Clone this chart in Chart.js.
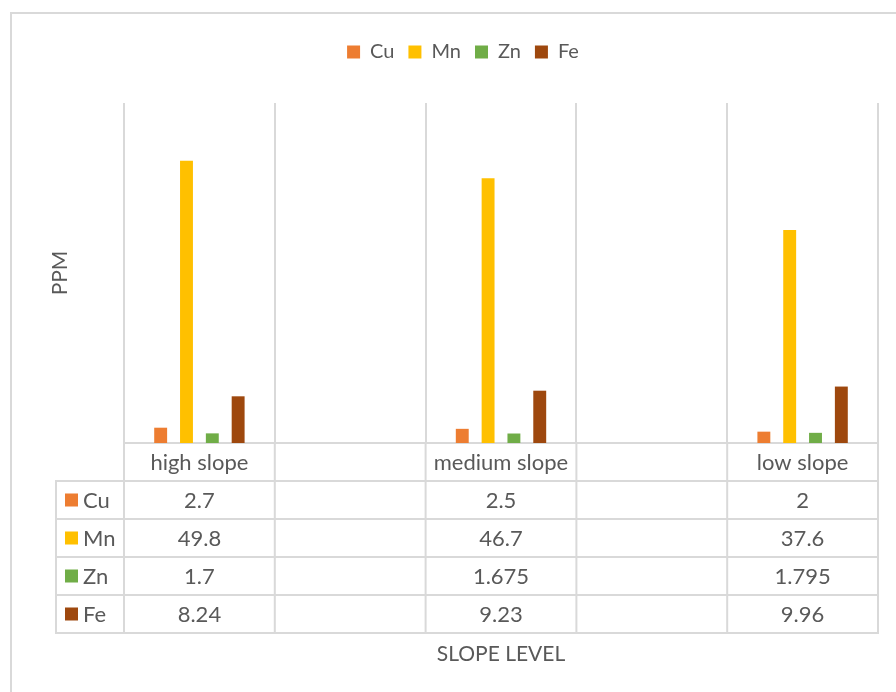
<!DOCTYPE html>
<html>
<head>
<meta charset="utf-8">
<script src="https://cdn.jsdelivr.net/npm/chart.js@4.4.1/dist/chart.umd.min.js"></script>
<style>
html,body{margin:0;padding:0;background:#ffffff;}
#wrap{position:relative;width:896px;height:692px;}
canvas{display:block;}
</style>
</head>
<body>
<div id="wrap"><canvas id="c" width="896" height="692"></canvas></div>
<script>
// ---- data ----
const categories = ['high slope', '', 'medium slope', '', 'low slope'];
const seriesNames = ['Cu', 'Mn', 'Zn', 'Fe'];
const cuValues = [2.7, null, 2.5, null, 2];
const mnValues = [49.8, null, 46.7, null, 37.6];
const znValues = [1.7, null, 1.675, null, 1.795];
const feValues = [8.24, null, 9.23, null, 9.96];
const seriesColors = ['#ED7D31', '#FFC000', '#70AD47', '#9E480E'];
const yMin = 0;
const yMax = 60;
const xTitle = 'SLOPE LEVEL';
const yTitle = 'PPM';

const allValues = [cuValues, mnValues, znValues, feValues];
const TEXT = '#595959';
const LINE = '#d9d9d9';
const FONT_FAMILY = 'Lato, "Open Sans", sans-serif';
const FONT_SIZE = 21;
const TABLE_FONT_SIZE = 22;

const datasets = seriesNames.map((name, i) => ({
  label: name,
  data: allValues[i],
  backgroundColor: seriesColors[i],
  borderWidth: 0,
  categoryPercentage: 0.685,
  barPercentage: 0.5
}));

const framePlugin = {
  id: 'frame',
  beforeDraw(chart) {
    const ctx = chart.ctx;
    ctx.save();
    ctx.fillStyle = '#ffffff';
    ctx.fillRect(0, 0, chart.width, chart.height);
    ctx.fillStyle = LINE;
    ctx.fillRect(10, 12, chart.width - 10, 2);
    ctx.fillRect(10, 12, 2, chart.height - 12);
    ctx.restore();
  }
};

const legendSpacer = {
  id: 'legendSpacer',
  beforeLayout(chart) {
    const lg = chart.legend;
    if (lg && !lg._patched) {
      const orig = lg.fit;
      lg.fit = function () {
        orig.call(this);
        this.height = 75;
      };
      lg._patched = true;
    }
  }
};

const tablePlugin = {
  id: 'dataTable',
  afterDraw(chart) {
    const ctx = chart.ctx;
    const xs = chart.scales.x;
    const area = chart.chartArea;
    const rowH = 38;
    const top = area.bottom;
    const nRows = seriesNames.length;
    const bottom = top + rowH * (nRows + 1);
    const tableLeft = area.left - 68;
    const half = (xs.getPixelForValue(1) - xs.getPixelForValue(0)) / 2;
    const edges = categories.map((c, i) => xs.getPixelForValue(i) - half);
    edges.push(xs.getPixelForValue(categories.length - 1) + half);

    ctx.save();
    ctx.strokeStyle = LINE;
    ctx.lineWidth = 2;
    ctx.beginPath();
    for (let k = 1; k <= nRows + 1; k++) {
      const y = top + rowH * k;
      ctx.moveTo(tableLeft, y);
      ctx.lineTo(area.right + 1, y);
    }
    edges.forEach(x => {
      ctx.moveTo(x, top);
      ctx.lineTo(x, bottom + 1);
    });
    ctx.moveTo(tableLeft, top + rowH - 1);
    ctx.lineTo(tableLeft, bottom + 1);
    ctx.stroke();

    ctx.font = TABLE_FONT_SIZE + 'px ' + FONT_FAMILY;
    ctx.fillStyle = TEXT;
    ctx.textBaseline = 'middle';
    ctx.textAlign = 'center';
    categories.forEach((c, i) => {
      ctx.fillText(c, xs.getPixelForValue(i), top + rowH / 2 + 1);
    });
    seriesNames.forEach((name, r) => {
      const cy = top + rowH * (r + 1) + rowH / 2;
      ctx.fillStyle = seriesColors[r];
      ctx.fillRect(tableLeft + 9, cy - 6.5, 13, 13);
      ctx.fillStyle = TEXT;
      ctx.textAlign = 'left';
      ctx.fillText(name, tableLeft + 27, cy + 1);
      ctx.textAlign = 'center';
      allValues[r].forEach((v, i) => {
        if (v !== null && v !== undefined) {
          ctx.fillText(String(v), xs.getPixelForValue(i), cy + 1);
        }
      });
    });
    ctx.restore();
  }
};

new Chart(document.getElementById('c'), {
  type: 'bar',
  data: { labels: categories, datasets },
  plugins: [framePlugin, legendSpacer, tablePlugin],
  options: {
    responsive: false,
    animation: false,
    layout: { padding: { top: 28, left: 48, right: 18, bottom: 0 } },
    plugins: {
      tooltip: { enabled: false },
      legend: {
        position: 'top',
        labels: {
          boxWidth: 13,
          boxHeight: 13,
          padding: 14,
          color: TEXT,
          font: { family: FONT_FAMILY, size: 20 }
        }
      }
    },
    scales: {
      x: {
        ticks: { display: false },
        grid: { display: true, color: LINE, lineWidth: 2, drawTicks: false, offset: true },
        border: { display: true, color: LINE, width: 2 },
        title: {
          display: true, text: xTitle, color: TEXT,
          font: { family: FONT_FAMILY, size: FONT_SIZE },
          padding: { top: 0, bottom: 25 }
        },
        afterFit(scale) { scale.height = 249; }
      },
      y: {
        min: yMin, max: yMax,
        ticks: { display: false },
        grid: { display: false },
        border: { display: false },
        title: {
          display: true, text: yTitle, color: TEXT,
          font: { family: FONT_FAMILY, size: FONT_SIZE },
          padding: { top: 0, bottom: 0 }
        },
        afterFit(scale) { scale.width = 76; }
      }
    }
  }
});
</script>
</body>
</html>
